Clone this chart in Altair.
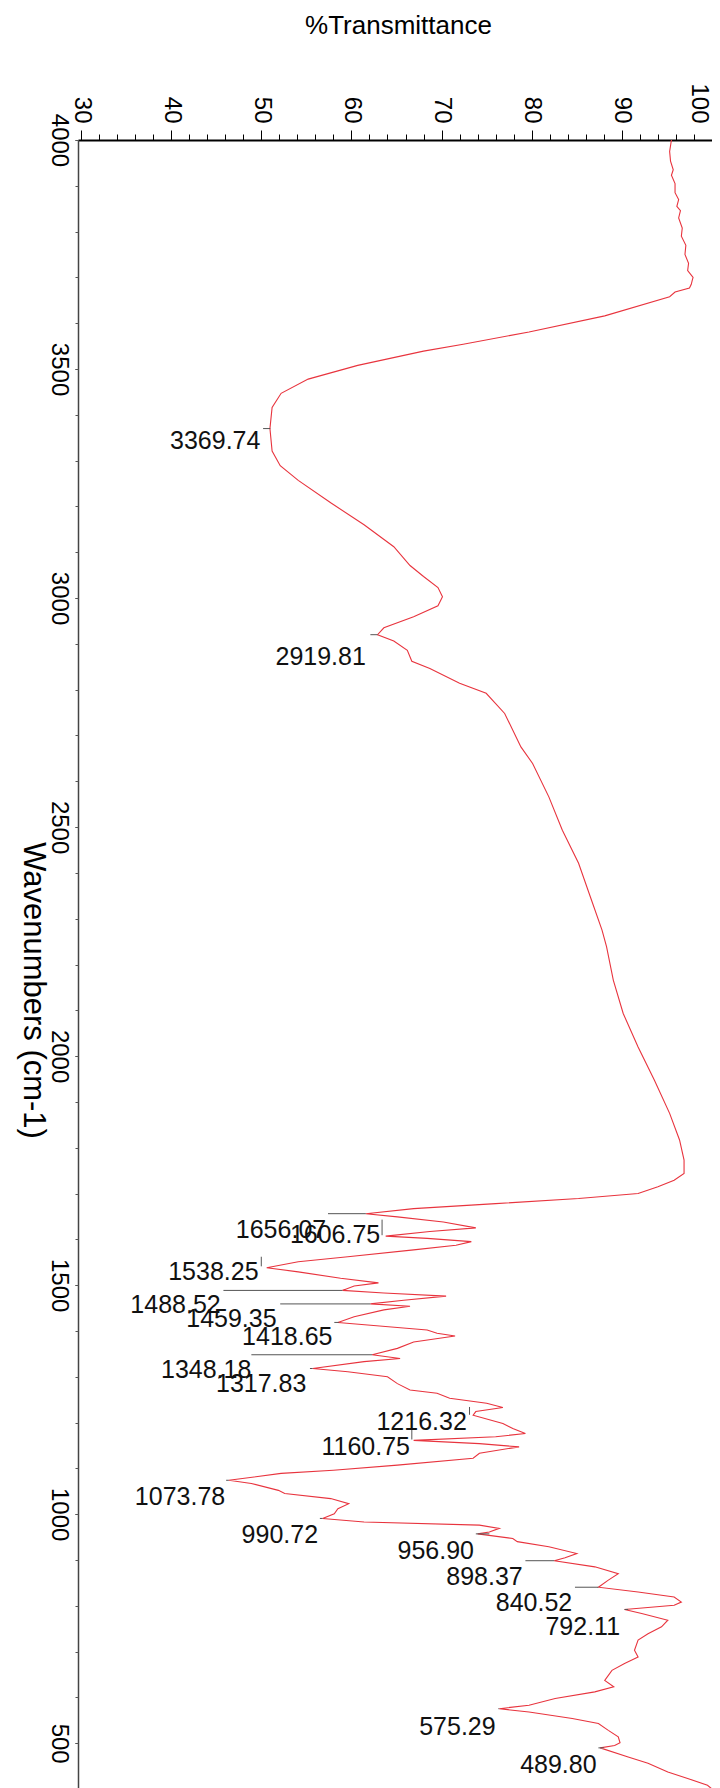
import altair as alt
import pandas as pd

# ---- spectrum (wavenumber cm-1, %T) ----
wavenumber = [
    4000, 3975, 3954, 3935, 3923, 3905, 3885, 3870, 3855, 3846, 3830, 3808, 3790,
    3770, 3750, 3731, 3715, 3700, 3693, 3685, 3677, 3668, 3658, 3616, 3581, 3554,
    3539, 3508, 3478, 3447, 3416, 3370, 3321, 3289, 3257, 3208, 3160, 3112, 3071,
    3047, 3023, 3003, 2983, 2959, 2935, 2920, 2906, 2886, 2862, 2846, 2814, 2792,
    2748, 2675, 2639, 2566, 2493, 2421, 2348, 2275, 2239, 2166, 2093, 2020, 1948,
    1875, 1817, 1773, 1744, 1729, 1715, 1700, 1689, 1678, 1667, 1656, 1649, 1638,
    1625, 1617, 1607, 1602, 1595, 1587, 1577, 1562, 1551, 1538, 1529, 1515, 1505,
    1498, 1488.5, 1483, 1476, 1467, 1459, 1454, 1446, 1431, 1418.6, 1413, 1402,
    1395, 1389, 1376, 1362, 1348, 1340, 1333, 1318, 1311, 1300, 1285, 1271, 1264,
    1253, 1242, 1233, 1224, 1216, 1198, 1187, 1176, 1169, 1161, 1154, 1147, 1133,
    1122, 1107, 1096, 1089, 1074, 1067, 1052, 1045, 1034, 1023, 1012, 1001, 990.7,
    983, 976, 969, 961, 957, 947, 940, 929, 914, 905, 898.4, 885, 870, 856, 840.5,
    830, 819, 808, 801, 792, 783, 768.5, 754, 739, 725, 703, 688, 674, 659, 637,
    623, 612, 597.5, 583, 575.3, 568, 554, 543, 528, 514, 501, 495, 489.8, 470,
    456, 437, 423, 408, 400,
]
transmittance = [
    95.5, 95.3, 95.4, 95.7, 95.5, 95.9, 95.9, 96.3, 96.1, 96.5, 96.3, 96.7, 96.6,
    97.1, 97.0, 97.4, 97.3, 97.9, 97.8, 97.7, 97.5, 95.9, 95.3, 88.1, 79.7, 72.4,
    68.0, 60.7, 55.2, 52.2, 51.2, 50.96, 51.2, 52.1, 54.1, 57.7, 61.4, 64.7, 66.5,
    68.0, 69.6, 70.1, 69.6, 66.9, 63.6, 62.9, 64.7, 66.2, 66.7, 68.7, 72.0, 74.95,
    77.0, 78.8, 80.1, 81.9, 83.4, 85.2, 86.5, 87.8, 88.3, 89.05, 90.15, 91.8, 93.6,
    95.3, 96.4, 96.9, 96.9, 95.8, 94.0, 91.8, 85.2, 76.0, 66.9, 61.6, 65.1, 70.2,
    73.8, 68.7, 63.8, 68.4, 73.3, 71.6, 66.9, 59.6, 54.1, 50.6, 54.1, 58.8, 63.0,
    60.3, 59.0, 63.6, 70.5, 65.8, 62.1, 66.5, 63.6, 60.3, 58.5, 61.8, 68.4,
    69.5, 71.5, 66.9, 65.1, 62.3, 65.4, 61.4, 55.7, 59.6, 64.0, 65.1, 66.5, 69.5,
    70.9, 75.0, 76.8, 73.8, 73.5, 76.8, 77.9, 79.3, 76.0, 66.9, 74.2, 78.6, 74.2,
    73.5, 65.1, 58.0, 52.2, 46.4, 48.9, 51.9, 52.6, 57.7, 59.7, 58.5, 58.1, 56.8,
    61.4, 74.2, 76.4, 75.3, 74.0, 77.9, 78.4, 81.9, 85.0, 83.7, 82.5, 87.0, 89.6, 88.5, 87.4,
    91.8, 95.8, 96.6, 95.8, 90.3, 92.2, 95.1, 94.4, 92.9, 91.8, 91.4, 91.8, 90.3, 88.9, 88.1,
    89.1, 87.0, 82.6, 79.7, 76.4, 79.7, 84.5, 87.4, 88.5, 89.6, 89.8, 89.2, 87.6, 90.7,
    92.9, 95.1, 97.3, 99.5, 100.0,
]

# ---- peak annotations ----
peak_labels = ["3369.74", "2919.81", "1656.07", "1606.75", "1538.25", "1488.52",
               "1459.35", "1418.65", "1348.18", "1317.83", "1216.32", "1160.75",
               "1073.78", "990.72", "956.90", "898.37", "840.52", "792.11",
               "575.29", "489.80"]
label_T = [49.9, 61.6, 57.2, 63.2, 49.7, 45.5, 51.7, 57.9, 48.9, 55.0, 72.8, 66.5,
           46.0, 56.3, 73.6, 79.0, 84.5, 89.8, 76.0, 87.2]
label_w = [3342, 2872, 1620, 1609, 1529, 1456, 1425, 1387, 1314, 1284, 1202, 1146,
           1038, 954, 919, 862, 805, 754, 536, 452]

# leader lines beside the peaks
lead_T1 = [50.2, 62.1, 57.4, 63.4, 50.0, 45.8, 52.1, 58.1, 48.9, 55.4, 73.1, 66.7,
           46.1, 56.5, 73.8, 79.3, 84.8, 90.3, 76.3, 87.4]
lead_T2 = [51.0, 62.9, 61.6, 63.4, 50.0, 59.0, 62.1, 58.6, 62.3, 55.7, 73.1, 66.7,
           46.4, 56.8, 75.3, 82.5, 87.4, 90.7, 76.4, 88.0]
lead_w1 = [3370, 2920, 1656, 1643, 1562, 1488.5, 1459, 1418.6, 1348, 1318, 1234, 1187,
           1074, 990.7, 957, 898.4, 840.5, 792, 575.3, 489.8]
lead_w2 = [3370, 2920, 1656, 1609, 1541, 1488.5, 1459, 1418.6, 1348, 1318, 1217, 1163,
           1074, 990.7, 957, 898.4, 840.5, 792, 575.3, 489.8]

x_major = list(range(30, 101, 10))
x_minor = list(range(30, 101, 2))
y_major = list(range(500, 4001, 500))
y_minor = list(range(400, 4001, 100))

FONT = "Liberation Sans"

spec = pd.DataFrame({"w": wavenumber, "T": transmittance, "i": list(range(len(wavenumber)))})
peaks = pd.DataFrame({"label": peak_labels, "lx": label_T, "ly": label_w})
leaders = pd.DataFrame({"x1": lead_T1, "x2": lead_T2, "y1": lead_w1, "y2": lead_w2})

xs = alt.Scale(domain=[29.667, 100], nice=False, zero=False)
ys = alt.Scale(domain=[400, 4000], nice=False, zero=False)

line = alt.Chart(spec).mark_line(color="#e8343e", strokeWidth=1.1, clip=True).encode(
    x=alt.X("T:Q", scale=xs, axis=alt.Axis(
        orient="top", values=x_major, title="%Transmittance", grid=False, format="d",
        labelAngle=90, labelAlign="right", labelBaseline="middle", labelFlush=False,
        labelOffset={"condition": {"test": "datum.value === 100", "value": -14}, "value": 0},
        labelFontSize=24, labelPadding=7, labelColor="black", labelFont=FONT,
        tickSize=10, tickColor="black", tickWidth=1,
        domainColor="black", domainWidth=2,
        titleFontSize=26, titleFontWeight="normal", titleFont=FONT, titleColor="black",
        titleAngle=0, titleX=320, titleY=-107, titleAlign="center",
        titleBaseline="alphabetic")),
    y=alt.Y("w:Q", scale=ys, axis=alt.Axis(
        orient="left", values=y_major, title="Wavenumbers (cm-1)", grid=False, format="d",
        labelAngle=90, labelAlign="center", labelBaseline="top", labelFlush=False,
        labelFontSize=24, labelPadding=5, labelColor="black", labelFont=FONT,
        tickSize=3, tickColor="#444", domainColor="#444", domainWidth=1.5,
        titleFontSize=31, titleFontWeight="normal", titleFont=FONT, titleColor="black",
        titleAngle=90, titleX=-46, titleY=850, titleAlign="center",
        titleBaseline="middle")),
    order="i:Q",
)

minor = alt.Chart(spec).mark_line(opacity=0).encode(
    x=alt.X("T:Q", scale=xs, axis=alt.Axis(
        orient="top", values=x_minor, labels=False, title=None, grid=False,
        domain=False, tickSize=6, tickColor="black", tickWidth=1)),
    y=alt.Y("w:Q", scale=ys, axis=alt.Axis(
        orient="left", values=y_minor, labels=False, title=None, grid=False,
        domain=False, tickSize=3, tickColor="#555")),
    order="i:Q",
)

rules = alt.Chart(leaders).mark_rule(color="#555555", strokeWidth=1).encode(
    x=alt.X("x1:Q", scale=xs, axis=None), x2="x2:Q",
    y=alt.Y("y1:Q", scale=ys, axis=None), y2="y2:Q",
)

texts = alt.Chart(peaks).mark_text(
    align="right", baseline="middle", fontSize=25, font=FONT, color="#111111"
).encode(
    x=alt.X("lx:Q", scale=xs, axis=None),
    y=alt.Y("ly:Q", scale=ys, axis=None),
    text="label:N",
)

chart = alt.layer(line, minor, rules, texts).resolve_axis(
    x="independent", y="independent"
).properties(
    width=634, height=1649,
    autosize=alt.AutoSizeParams(type="none"),
    padding={"left": 70, "top": 132, "right": 0, "bottom": 0},
    background="white",
).configure_view(stroke="#a8a8a8", strokeWidth=1)

chart.save("out.html", embed_options={"renderer": "svg", "actions": False})
